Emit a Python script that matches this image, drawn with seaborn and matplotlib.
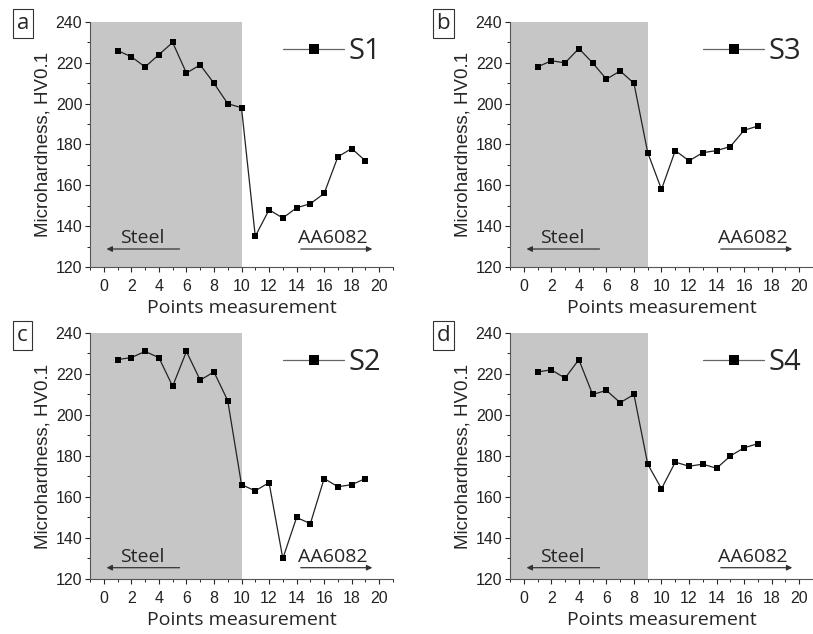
import matplotlib
matplotlib.use('Agg')
import matplotlib.pyplot as plt
from matplotlib.ticker import MultipleLocator
import numpy as np
import pandas as pd
import seaborn as sns

# hardness profiles
s1 = [226, 223, 218, 224, 230, 215, 219, 210, 200, 198, 135, 148, 144, 149, 151, 156, 174, 178, 172]
s3 = [218, 221, 220, 227, 220, 212, 216, 210, 176, 158, 177, 172, 176, 177, 179, 187, 189]
s2 = [227, 228, 231, 228, 214, 231, 217, 221, 207, 166, 163, 167, 130, 150, 147, 169, 165, 166, 169]
s4 = [221, 222, 218, 227, 210, 212, 206, 210, 176, 164, 177, 175, 176, 174, 180, 184, 186]

panels = ['a', 'b', 'c', 'd']
names = ['S1', 'S3', 'S2', 'S4']
series = [s1, s3, s2, s4]
steel_end = [10, 9, 10, 9]
arrow_y = [128.8, 128.8, 125.5, 125.5]

sns.set_style('ticks')
plt.rcParams['font.family'] = ['Liberation Sans', 'DejaVu Sans']
plt.rcParams['xtick.direction'] = 'out'
plt.rcParams['ytick.direction'] = 'out'
sans2 = ['Open Sans', 'DejaVu Sans']

fig = plt.figure(figsize=(8.13, 6.34), dpi=100)
pos = [[0.1107, 0.5789, 0.3727, 0.3864],
       [0.6273, 0.5789, 0.3727, 0.3864],
       [0.1107, 0.0868, 0.3727, 0.3880],
       [0.6273, 0.0868, 0.3727, 0.3880]]
lab_pos = [(0.021, 0.979), (0.537, 0.979), (0.021, 0.487), (0.537, 0.487)]

for i in range(4):
    ax = fig.add_axes(pos[i])
    df = pd.DataFrame({'x': np.arange(1, len(series[i]) + 1), 'y': series[i]})
    ax.axvspan(-1, steel_end[i], ymin=0, ymax=1, color='#c6c6c6', lw=0, zorder=0)
    sns.lineplot(data=df, x='x', y='y', ax=ax, color='#222222', lw=0.9,
                 marker='s', markersize=4.5, markeredgewidth=0, markerfacecolor='black',
                 label=names[i], zorder=3)
    ax.set_xlim(-1, 21)
    ax.set_ylim(120, 240)
    ax.xaxis.set_major_locator(MultipleLocator(2))
    ax.xaxis.set_minor_locator(MultipleLocator(1))
    ax.yaxis.set_major_locator(MultipleLocator(20))
    ax.yaxis.set_minor_locator(MultipleLocator(10))
    ax.tick_params(axis='both', which='major', labelsize=11.5, length=3.5, width=0.8, pad=2,
                   labelcolor='#222222')
    ax.tick_params(axis='x', which='major', pad=5)
    ax.tick_params(axis='both', which='minor', length=2, width=0.7)
    for sp in ['top', 'right']:
        ax.spines[sp].set_visible(False)
    for sp in ['left', 'bottom']:
        ax.spines[sp].set_color('#555555')
        ax.spines[sp].set_linewidth(0.8)
    ax.set_xlabel('Points measurement', fontsize=14, family=sans2, labelpad=4)
    ax.set_ylabel('Microhardness, HV0.1', fontsize=13.5, labelpad=3)

    ax.annotate('', xy=(0, arrow_y[i]), xytext=(5.7, arrow_y[i]),
                arrowprops=dict(arrowstyle='-|>', color='#333333', lw=0.9, mutation_scale=8))
    ax.annotate('', xy=(19.7, arrow_y[i]), xytext=(14.1, arrow_y[i]),
                arrowprops=dict(arrowstyle='-|>', color='#333333', lw=0.9, mutation_scale=8))
    ax.text(1.2, arrow_y[i] + 3.0, 'Steel', fontsize=14, family=sans2)
    ax.text(14.1, arrow_y[i] + 3.0, 'AA6082', fontsize=14, family=sans2)

    leg = ax.legend(loc='upper right', frameon=False, handlelength=2.1,
                    handletextpad=0.15, borderaxespad=0.0, bbox_to_anchor=(1.0, 0.985),
                    prop={'family': sans2, 'size': 21})
    for h in leg.legend_handles:
        h.set_markersize(7)
        h.set_color('#666666')
        h.set_markerfacecolor('black')

    fig.text(lab_pos[i][0], lab_pos[i][1], panels[i], fontsize=16, va='top', ha='left',
             family=sans2,
             bbox=dict(boxstyle='square,pad=0.18', fc='white', ec='#333333', lw=0.8))

fig.savefig('out.png', dpi=100)
